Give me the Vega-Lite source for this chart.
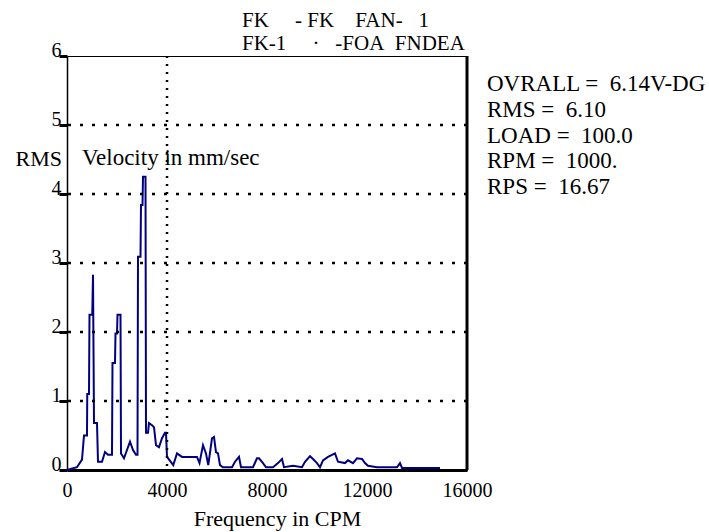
{
  "$schema": "https://vega.github.io/schema/vega-lite/v6.json",
  "autosize": {"type": "none"},
  "padding": {"left": 67, "top": 56, "right": 242, "bottom": 62},
  "width": 400,
  "height": 414,
  "background": "white",
  "title": {
    "text": ["FK\u00a0\u00a0\u00a0\u00a0\u00a0- FK\u00a0\u00a0\u00a0\u00a0FAN-\u00a0\u00a0 1", "FK-1\u00a0\u00a0\u00a0\u00a0\u00a0\u00b7\u00a0\u00a0\u00a0-FOA\u00a0\u00a0FNDEA"],
    "anchor": "start",
    "frame": "group",
    "dx": 175,
    "offset": -14,
    "font": "Times New Roman",
    "fontSize": 21,
    "fontWeight": "normal",
    "lineHeight": 23,
    "color": "black"
  },
  "datasets": {
    "spectrum": [
      {"f": 0, "v": 0}, {"f": 400, "v": 0.04}, {"f": 600, "v": 0.15}, {"f": 680, "v": 0.5},
      {"f": 800, "v": 0.5}, {"f": 810, "v": 1.1}, {"f": 880, "v": 1.1}, {"f": 900, "v": 2.25},
      {"f": 1010, "v": 2.25}, {"f": 1040, "v": 2.83}, {"f": 1080, "v": 0.68}, {"f": 1200, "v": 0.68},
      {"f": 1240, "v": 0.12}, {"f": 1400, "v": 0.12}, {"f": 1520, "v": 0.26}, {"f": 1640, "v": 0.22},
      {"f": 1800, "v": 0.22}, {"f": 1820, "v": 1.55}, {"f": 1920, "v": 1.55}, {"f": 1940, "v": 1.98},
      {"f": 2000, "v": 1.98}, {"f": 2020, "v": 2.25}, {"f": 2140, "v": 2.25}, {"f": 2160, "v": 0.24},
      {"f": 2280, "v": 0.17}, {"f": 2400, "v": 0.29}, {"f": 2520, "v": 0.41}, {"f": 2640, "v": 0.29},
      {"f": 2760, "v": 0.22}, {"f": 2820, "v": 0.22}, {"f": 2840, "v": 3.09}, {"f": 2940, "v": 3.09},
      {"f": 2960, "v": 3.84}, {"f": 3020, "v": 3.84}, {"f": 3040, "v": 4.25}, {"f": 3140, "v": 4.25},
      {"f": 3160, "v": 0.54}, {"f": 3240, "v": 0.54}, {"f": 3280, "v": 0.68}, {"f": 3400, "v": 0.65},
      {"f": 3480, "v": 0.62}, {"f": 3560, "v": 0.36}, {"f": 3680, "v": 0.33}, {"f": 3800, "v": 0.46},
      {"f": 3920, "v": 0.54}, {"f": 3960, "v": 0.54}, {"f": 4000, "v": 0.19}, {"f": 4250, "v": 0.07},
      {"f": 4400, "v": 0.24}, {"f": 4600, "v": 0.19}, {"f": 5200, "v": 0.19}, {"f": 5300, "v": 0.1},
      {"f": 5440, "v": 0.36}, {"f": 5560, "v": 0.24}, {"f": 5650, "v": 0.07}, {"f": 5800, "v": 0.46},
      {"f": 5880, "v": 0.48}, {"f": 5960, "v": 0.26}, {"f": 6040, "v": 0.24}, {"f": 6120, "v": 0.07},
      {"f": 6240, "v": 0.04}, {"f": 6600, "v": 0.04}, {"f": 6720, "v": 0.12}, {"f": 6880, "v": 0.19},
      {"f": 6960, "v": 0.04}, {"f": 7440, "v": 0.04}, {"f": 7600, "v": 0.17}, {"f": 7680, "v": 0.17},
      {"f": 7840, "v": 0.1}, {"f": 7960, "v": 0.04}, {"f": 8240, "v": 0.04}, {"f": 8440, "v": 0.1},
      {"f": 8600, "v": 0.16}, {"f": 8680, "v": 0.04}, {"f": 9040, "v": 0.06}, {"f": 9400, "v": 0.04},
      {"f": 9520, "v": 0.12}, {"f": 9720, "v": 0.2}, {"f": 9840, "v": 0.16}, {"f": 10000, "v": 0.1},
      {"f": 10120, "v": 0.04}, {"f": 10240, "v": 0.14}, {"f": 10440, "v": 0.19}, {"f": 10720, "v": 0.24},
      {"f": 10840, "v": 0.12}, {"f": 11120, "v": 0.1}, {"f": 11240, "v": 0.14}, {"f": 11440, "v": 0.1},
      {"f": 11600, "v": 0.17}, {"f": 11800, "v": 0.16}, {"f": 11920, "v": 0.1}, {"f": 12040, "v": 0.06},
      {"f": 12400, "v": 0.04}, {"f": 13200, "v": 0.04}, {"f": 13320, "v": 0.1}, {"f": 13400, "v": 0.03},
      {"f": 14920, "v": 0.03}
    ],
    "grid": [{"g": 1}, {"g": 2}, {"g": 3}, {"g": 4}, {"g": 5}]
  },
  "config": {
    "view": {"stroke": "black", "strokeWidth": 1},
    "font": "Times New Roman",
    "text": {"font": "Times New Roman", "color": "black"},
    "axis": {"labelFont": "Times New Roman", "titleFont": "Times New Roman", "labelColor": "black", "titleColor": "black", "domainColor": "black", "tickColor": "black", "titleFontWeight": "normal"}
  },
  "layer": [
    {
      "data": {"name": "spectrum"},
      "mark": {"type": "line", "color": "#000080", "strokeWidth": 2},
      "encoding": {
        "x": {
          "field": "f", "type": "quantitative",
          "scale": {"domain": [0, 16000], "nice": false, "zero": true},
          "axis": {
            "values": [0, 4000, 8000, 12000, 16000],
            "format": "d",
            "title": "Frequency in CPM",
            "titleFontSize": 22,
            "titlePadding": 8,
            "titleX": 210,
            "labelFontSize": 20,
            "labelPadding": 10,
            "tickSize": 0,
            "domainWidth": 3,
            "grid": false,
            "labelFlush": false
          }
        },
        "y": {
          "field": "v", "type": "quantitative",
          "scale": {"domain": [0, 6], "nice": false},
          "axis": {
            "values": [0, 1, 2, 3, 4, 5, 6],
            "format": "d",
            "title": "RMS",
            "titleAngle": 0,
            "titleAlign": "left",
            "titleBaseline": "alphabetic",
            "titleX": -52,
            "titleY": 109,
            "titleFontSize": 22,
            "labelFontSize": 20,
            "labelBaseline": "alphabetic",
            "labelPadding": -2,
            "tickSize": 8,
            "tickWidth": 3,
            "domainWidth": 1.5,
            "grid": false
          }
        }
      }
    },
    {
      "data": {"name": "grid"},
      "mark": {"type": "rule", "color": "black", "strokeWidth": 2.5, "strokeDash": [3, 9]},
      "encoding": {
        "y": {"field": "g", "type": "quantitative"}
      }
    },
    {
      "data": {"values": [{}]},
      "mark": {"type": "rule", "color": "black", "strokeWidth": 2.5, "strokeDash": [2, 6]},
      "encoding": {
        "x": {"datum": 4000, "type": "quantitative"}
      }
    },
    {
      "data": {"values": [{}]},
      "mark": {"type": "rule", "color": "black", "strokeWidth": 3},
      "encoding": {
        "x": {"datum": 16000, "type": "quantitative"}
      }
    },
    {
      "data": {"values": [{"label": "Velocity in mm/sec"}]},
      "mark": {"type": "text", "align": "left", "baseline": "alphabetic", "fontSize": 23},
      "encoding": {
        "x": {"datum": 600, "type": "quantitative"},
        "y": {"datum": 4.42, "type": "quantitative"},
        "text": {"field": "label"}
      }
    },
    {
      "data": {"values": [{"info": "OVRALL =\u00a0 6.14V-DG\nRMS =\u00a0 6.10\nLOAD =\u00a0 100.0\nRPM =\u00a0 1000.\nRPS =\u00a0 16.67"}]},
      "mark": {"type": "text", "align": "left", "baseline": "alphabetic", "fontSize": 23, "lineBreak": "\n", "lineHeight": 25.7},
      "encoding": {
        "x": {"datum": 16800, "type": "quantitative"},
        "y": {"datum": 5.49, "type": "quantitative"},
        "text": {"field": "info"}
      }
    }
  ]
}
